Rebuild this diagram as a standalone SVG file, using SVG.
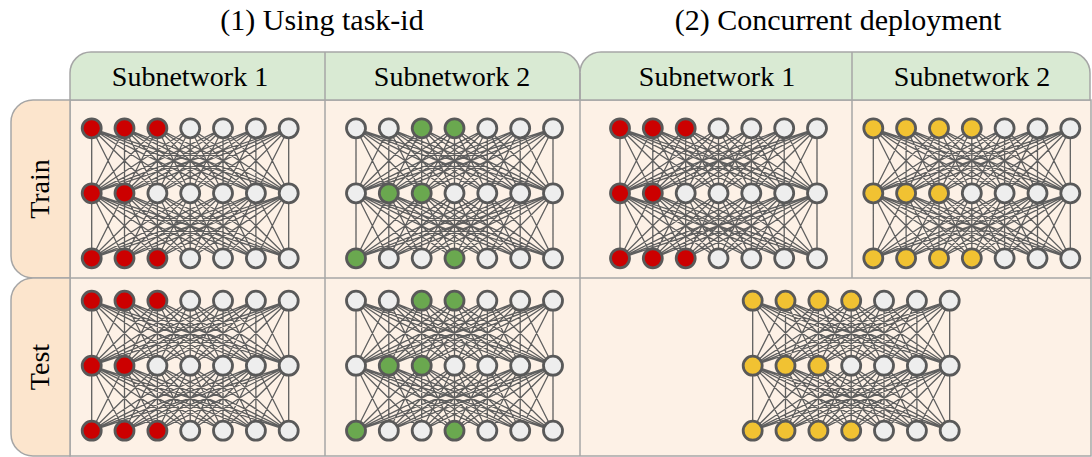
<svg xmlns="http://www.w3.org/2000/svg" xmlns:xlink="http://www.w3.org/1999/xlink" width="1092" height="457" viewBox="0 0 1092 457">
<style>
.frame{stroke:#a6a6a6;stroke-width:1.5}
.hdr{fill:#d9ead3}
.body{fill:#fdf1e6}
.lab{fill:#fce5cd}
.t{font-family:"Liberation Serif","Times New Roman",serif;fill:#000;text-anchor:middle}
.title{font-size:30px}
.h{font-size:28px}
.mesh{fill:none;stroke:#5f5f5f;stroke-width:1.3}
circle{stroke:#595959;stroke-width:2.8}
.r{fill:#cc0000}.g{fill:#eeeeee}.n{fill:#6aa84f}.y{fill:#f1c232}
</style>
<defs>
<path id="layer" class="mesh" d="M0 0L0 65M0 0L32.8 65M0 0L65.7 65M0 0L98.5 65M0 0L131.3 65M0 0L164.2 65M0 0L197 65
M32.8 0L0 65M32.8 0L32.8 65M32.8 0L65.7 65M32.8 0L98.5 65M32.8 0L131.3 65M32.8 0L164.2 65M32.8 0L197 65
M65.7 0L0 65M65.7 0L32.8 65M65.7 0L65.7 65M65.7 0L98.5 65M65.7 0L131.3 65M65.7 0L164.2 65M65.7 0L197 65
M98.5 0L0 65M98.5 0L32.8 65M98.5 0L65.7 65M98.5 0L98.5 65M98.5 0L131.3 65M98.5 0L164.2 65M98.5 0L197 65
M131.3 0L0 65M131.3 0L32.8 65M131.3 0L65.7 65M131.3 0L98.5 65M131.3 0L131.3 65M131.3 0L164.2 65M131.3 0L197 65
M164.2 0L0 65M164.2 0L32.8 65M164.2 0L65.7 65M164.2 0L98.5 65M164.2 0L131.3 65M164.2 0L164.2 65M164.2 0L197 65
M197 0L0 65M197 0L32.8 65M197 0L65.7 65M197 0L98.5 65M197 0L131.3 65M197 0L164.2 65M197 0L197 65"/>
<g id="mesh"><use xlink:href="#layer"/><use xlink:href="#layer" y="65"/></g>
</defs>
<rect width="1092" height="457" fill="#fff"/>
<g id="titles">
<text class="t title" x="322" y="30">(1) Using task-id</text>
<text class="t title" x="838" y="30">(2) Concurrent deployment</text>
</g>
<g id="table">
<rect class="body frame" x="70" y="100" width="1021" height="356"/>
<path class="hdr frame" d="M70 100V73A21 21 0 0 1 91 52H559A21 21 0 0 1 580 73V100Z"/>
<path class="hdr frame" d="M580 100V73A21 21 0 0 1 601 52H1069A21 21 0 0 1 1090 73V100Z"/>
<path class="lab frame" d="M70 100H33A22 22 0 0 0 11 122V256A22 22 0 0 0 33 278H70Z"/>
<path class="lab frame" d="M70 278H33A22 22 0 0 0 11 300V434A22 22 0 0 0 33 456H70Z"/>
<path class="frame" fill="none" d="M325 52V456M580 73V456M852 52V278M70 278H1091"/>
</g>
<g id="labels">
<text class="t h" x="190" y="86">Subnetwork 1</text>
<text class="t h" x="452" y="86">Subnetwork 2</text>
<text class="t h" x="717" y="86">Subnetwork 1</text>
<text class="t h" x="972" y="86">Subnetwork 2</text>
<text class="t h" transform="translate(49 189) rotate(-90)">Train</text>
<text class="t h" transform="translate(49 367) rotate(-90)">Test</text>
</g>
<g id="connectors">
<use xlink:href="#mesh" x="91.7" y="128.3"/>
<use xlink:href="#mesh" x="356" y="128.3"/>
<use xlink:href="#mesh" x="91.7" y="300.7"/>
<use xlink:href="#mesh" x="356" y="300.7"/>
<use xlink:href="#mesh" x="620" y="128.3"/>
<use xlink:href="#mesh" x="873.3" y="128.3"/>
<use xlink:href="#mesh" x="752.7" y="300.7"/>
</g>
<g id="net-train-1" transform="translate(91.7 128.3)">
<circle class="r" cx="0" cy="0" r="9.5"/><circle class="r" cx="32.8" cy="0" r="9.5"/><circle class="r" cx="65.7" cy="0" r="9.5"/><circle class="g" cx="98.5" cy="0" r="9.5"/><circle class="g" cx="131.3" cy="0" r="9.5"/><circle class="g" cx="164.2" cy="0" r="9.5"/><circle class="g" cx="197" cy="0" r="9.5"/>
<circle class="r" cx="0" cy="65" r="9.5"/><circle class="r" cx="32.8" cy="65" r="9.5"/><circle class="g" cx="65.7" cy="65" r="9.5"/><circle class="g" cx="98.5" cy="65" r="9.5"/><circle class="g" cx="131.3" cy="65" r="9.5"/><circle class="g" cx="164.2" cy="65" r="9.5"/><circle class="g" cx="197" cy="65" r="9.5"/>
<circle class="r" cx="0" cy="130" r="9.5"/><circle class="r" cx="32.8" cy="130" r="9.5"/><circle class="r" cx="65.7" cy="130" r="9.5"/><circle class="g" cx="98.5" cy="130" r="9.5"/><circle class="g" cx="131.3" cy="130" r="9.5"/><circle class="g" cx="164.2" cy="130" r="9.5"/><circle class="g" cx="197" cy="130" r="9.5"/>
</g>
<g id="net-train-2" transform="translate(356 128.3)">
<circle class="g" cx="0" cy="0" r="9.5"/><circle class="g" cx="32.8" cy="0" r="9.5"/><circle class="n" cx="65.7" cy="0" r="9.5"/><circle class="n" cx="98.5" cy="0" r="9.5"/><circle class="g" cx="131.3" cy="0" r="9.5"/><circle class="g" cx="164.2" cy="0" r="9.5"/><circle class="g" cx="197" cy="0" r="9.5"/>
<circle class="g" cx="0" cy="65" r="9.5"/><circle class="n" cx="32.8" cy="65" r="9.5"/><circle class="n" cx="65.7" cy="65" r="9.5"/><circle class="g" cx="98.5" cy="65" r="9.5"/><circle class="g" cx="131.3" cy="65" r="9.5"/><circle class="g" cx="164.2" cy="65" r="9.5"/><circle class="g" cx="197" cy="65" r="9.5"/>
<circle class="n" cx="0" cy="130" r="9.5"/><circle class="g" cx="32.8" cy="130" r="9.5"/><circle class="g" cx="65.7" cy="130" r="9.5"/><circle class="n" cx="98.5" cy="130" r="9.5"/><circle class="g" cx="131.3" cy="130" r="9.5"/><circle class="g" cx="164.2" cy="130" r="9.5"/><circle class="g" cx="197" cy="130" r="9.5"/>
</g>
<g id="net-test-1" transform="translate(91.7 300.7)">
<circle class="r" cx="0" cy="0" r="9.5"/><circle class="r" cx="32.8" cy="0" r="9.5"/><circle class="r" cx="65.7" cy="0" r="9.5"/><circle class="g" cx="98.5" cy="0" r="9.5"/><circle class="g" cx="131.3" cy="0" r="9.5"/><circle class="g" cx="164.2" cy="0" r="9.5"/><circle class="g" cx="197" cy="0" r="9.5"/>
<circle class="r" cx="0" cy="65" r="9.5"/><circle class="r" cx="32.8" cy="65" r="9.5"/><circle class="g" cx="65.7" cy="65" r="9.5"/><circle class="g" cx="98.5" cy="65" r="9.5"/><circle class="g" cx="131.3" cy="65" r="9.5"/><circle class="g" cx="164.2" cy="65" r="9.5"/><circle class="g" cx="197" cy="65" r="9.5"/>
<circle class="r" cx="0" cy="130" r="9.5"/><circle class="r" cx="32.8" cy="130" r="9.5"/><circle class="r" cx="65.7" cy="130" r="9.5"/><circle class="g" cx="98.5" cy="130" r="9.5"/><circle class="g" cx="131.3" cy="130" r="9.5"/><circle class="g" cx="164.2" cy="130" r="9.5"/><circle class="g" cx="197" cy="130" r="9.5"/>
</g>
<g id="net-test-2" transform="translate(356 300.7)">
<circle class="g" cx="0" cy="0" r="9.5"/><circle class="g" cx="32.8" cy="0" r="9.5"/><circle class="n" cx="65.7" cy="0" r="9.5"/><circle class="n" cx="98.5" cy="0" r="9.5"/><circle class="g" cx="131.3" cy="0" r="9.5"/><circle class="g" cx="164.2" cy="0" r="9.5"/><circle class="g" cx="197" cy="0" r="9.5"/>
<circle class="g" cx="0" cy="65" r="9.5"/><circle class="n" cx="32.8" cy="65" r="9.5"/><circle class="n" cx="65.7" cy="65" r="9.5"/><circle class="g" cx="98.5" cy="65" r="9.5"/><circle class="g" cx="131.3" cy="65" r="9.5"/><circle class="g" cx="164.2" cy="65" r="9.5"/><circle class="g" cx="197" cy="65" r="9.5"/>
<circle class="n" cx="0" cy="130" r="9.5"/><circle class="g" cx="32.8" cy="130" r="9.5"/><circle class="g" cx="65.7" cy="130" r="9.5"/><circle class="n" cx="98.5" cy="130" r="9.5"/><circle class="g" cx="131.3" cy="130" r="9.5"/><circle class="g" cx="164.2" cy="130" r="9.5"/><circle class="g" cx="197" cy="130" r="9.5"/>
</g>
<g id="net-conc-train-1" transform="translate(620 128.3)">
<circle class="r" cx="0" cy="0" r="9.5"/><circle class="r" cx="32.8" cy="0" r="9.5"/><circle class="r" cx="65.7" cy="0" r="9.5"/><circle class="g" cx="98.5" cy="0" r="9.5"/><circle class="g" cx="131.3" cy="0" r="9.5"/><circle class="g" cx="164.2" cy="0" r="9.5"/><circle class="g" cx="197" cy="0" r="9.5"/>
<circle class="r" cx="0" cy="65" r="9.5"/><circle class="r" cx="32.8" cy="65" r="9.5"/><circle class="g" cx="65.7" cy="65" r="9.5"/><circle class="g" cx="98.5" cy="65" r="9.5"/><circle class="g" cx="131.3" cy="65" r="9.5"/><circle class="g" cx="164.2" cy="65" r="9.5"/><circle class="g" cx="197" cy="65" r="9.5"/>
<circle class="r" cx="0" cy="130" r="9.5"/><circle class="r" cx="32.8" cy="130" r="9.5"/><circle class="r" cx="65.7" cy="130" r="9.5"/><circle class="g" cx="98.5" cy="130" r="9.5"/><circle class="g" cx="131.3" cy="130" r="9.5"/><circle class="g" cx="164.2" cy="130" r="9.5"/><circle class="g" cx="197" cy="130" r="9.5"/>
</g>
<g id="net-conc-train-2" transform="translate(873.3 128.3)">
<circle class="y" cx="0" cy="0" r="9.5"/><circle class="y" cx="32.8" cy="0" r="9.5"/><circle class="y" cx="65.7" cy="0" r="9.5"/><circle class="y" cx="98.5" cy="0" r="9.5"/><circle class="g" cx="131.3" cy="0" r="9.5"/><circle class="g" cx="164.2" cy="0" r="9.5"/><circle class="g" cx="197" cy="0" r="9.5"/>
<circle class="y" cx="0" cy="65" r="9.5"/><circle class="y" cx="32.8" cy="65" r="9.5"/><circle class="y" cx="65.7" cy="65" r="9.5"/><circle class="g" cx="98.5" cy="65" r="9.5"/><circle class="g" cx="131.3" cy="65" r="9.5"/><circle class="g" cx="164.2" cy="65" r="9.5"/><circle class="g" cx="197" cy="65" r="9.5"/>
<circle class="y" cx="0" cy="130" r="9.5"/><circle class="y" cx="32.8" cy="130" r="9.5"/><circle class="y" cx="65.7" cy="130" r="9.5"/><circle class="y" cx="98.5" cy="130" r="9.5"/><circle class="g" cx="131.3" cy="130" r="9.5"/><circle class="g" cx="164.2" cy="130" r="9.5"/><circle class="g" cx="197" cy="130" r="9.5"/>
</g>
<g id="net-conc-test" transform="translate(752.7 300.7)">
<circle class="y" cx="0" cy="0" r="9.5"/><circle class="y" cx="32.8" cy="0" r="9.5"/><circle class="y" cx="65.7" cy="0" r="9.5"/><circle class="y" cx="98.5" cy="0" r="9.5"/><circle class="g" cx="131.3" cy="0" r="9.5"/><circle class="g" cx="164.2" cy="0" r="9.5"/><circle class="g" cx="197" cy="0" r="9.5"/>
<circle class="y" cx="0" cy="65" r="9.5"/><circle class="y" cx="32.8" cy="65" r="9.5"/><circle class="y" cx="65.7" cy="65" r="9.5"/><circle class="g" cx="98.5" cy="65" r="9.5"/><circle class="g" cx="131.3" cy="65" r="9.5"/><circle class="g" cx="164.2" cy="65" r="9.5"/><circle class="g" cx="197" cy="65" r="9.5"/>
<circle class="y" cx="0" cy="130" r="9.5"/><circle class="y" cx="32.8" cy="130" r="9.5"/><circle class="y" cx="65.7" cy="130" r="9.5"/><circle class="y" cx="98.5" cy="130" r="9.5"/><circle class="g" cx="131.3" cy="130" r="9.5"/><circle class="g" cx="164.2" cy="130" r="9.5"/><circle class="g" cx="197" cy="130" r="9.5"/>
</g>
</svg>
